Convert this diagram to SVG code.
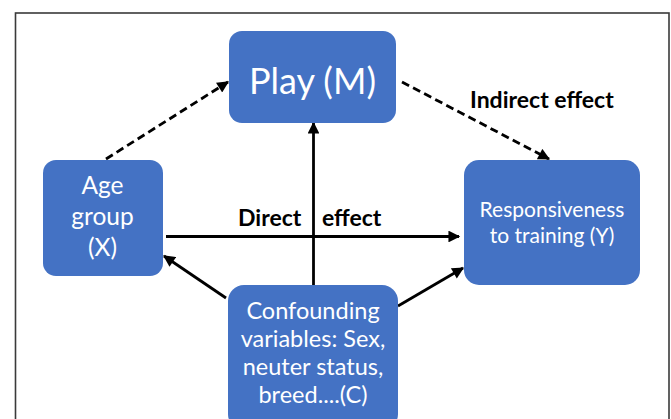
<svg xmlns="http://www.w3.org/2000/svg" width="671" height="419" viewBox="0 0 671 419">
<style>
.node{fill:#4472C4;}
.nt{fill:#ffffff;font-family:Lato,"Open Sans",sans-serif;text-anchor:middle;}
.edge{stroke:#000;stroke-width:2.8;fill:none;marker-end:url(#ah);}
.dash{stroke-dasharray:8 4.5;}
.lbl{font-family:Lato,"Open Sans",sans-serif;font-weight:bold;font-size:23px;fill:#000;}
</style>
<defs>
<marker id="ah" viewBox="0 0 10 10" refX="9" refY="5" markerWidth="4.6" markerHeight="4.2" orient="auto" markerUnits="strokeWidth">
<path d="M0,0 L10,5 L0,10 z" fill="#000"/>
</marker>
</defs>
<rect x="0" y="0" width="671" height="419" fill="#ffffff"/>
<rect x="15.5" y="13" width="653.5" height="420" fill="none" stroke="#3a3a3a" stroke-width="1.6"/>
<g id="connectors">
<line class="edge dash" x1="106" y1="159" x2="228" y2="82"/>
<line class="edge dash" x1="402" y1="82" x2="549" y2="159"/>
<line class="edge" x1="166" y1="236.5" x2="459" y2="236.5"/>
<line class="edge" x1="313.5" y1="285" x2="313.5" y2="123"/>
<line class="edge" x1="226" y1="298" x2="164" y2="256"/>
<line class="edge" x1="398" y1="306" x2="463" y2="268"/>
</g>
<g id="labels">
<text class="lbl" x="470" y="108">Indirect effect</text>
<text class="lbl" x="238" y="226">Direct</text>
<text class="lbl" x="322" y="226">effect</text>
</g>
<g id="play">
<rect class="node" x="229" y="31" width="167" height="92" rx="13"/>
<text class="nt" x="312.5" y="94" font-size="36">Play (M)</text>
</g>
<g id="age">
<rect class="node" x="43" y="160" width="120" height="116" rx="13"/>
<text class="nt" x="102.5" y="194" font-size="24.5">Age</text>
<text class="nt" x="102.5" y="225" font-size="24.5">group</text>
<text class="nt" x="102.5" y="256" font-size="24.5">(X)</text>
</g>
<g id="resp">
<rect class="node" x="464" y="160" width="176" height="125" rx="15"/>
<text class="nt" x="552" y="217" font-size="21">Responsiveness</text>
<text class="nt" x="552" y="243" font-size="21">to training (Y)</text>
</g>
<g id="conf">
<rect class="node" x="228" y="285" width="170" height="145" rx="16"/>
<text class="nt" x="313" y="319" font-size="23.5">Confounding</text>
<text class="nt" x="313" y="347" font-size="23.5">variables: Sex,</text>
<text class="nt" x="313" y="375" font-size="23.5">neuter status,</text>
<text class="nt" x="313" y="403" font-size="23.5">breed....(C)</text>
</g>
</svg>
